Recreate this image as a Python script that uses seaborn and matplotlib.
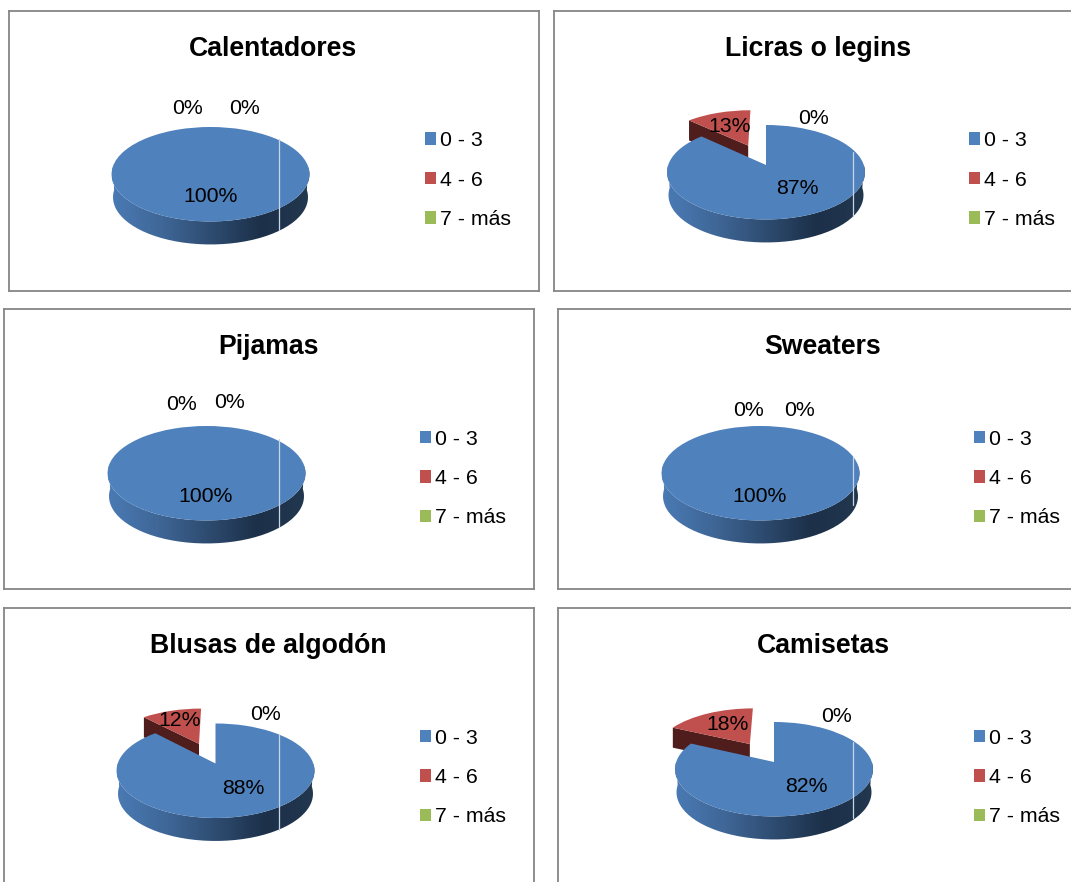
import numpy as np
import matplotlib
matplotlib.use("Agg")
import matplotlib.pyplot as plt
import seaborn as sns
from matplotlib.colors import LinearSegmentedColormap
from matplotlib.path import Path
from matplotlib.transforms import Transform

# ---------- data ----------
titles = ["Calentadores", "Licras o legins", "Pijamas", "Sweaters",
          "Blusas de algodón", "Camisetas"]
categories = ["0 - 3", "4 - 6", "7 - más"]
series_0_3 = [100, 87, 100, 100, 88, 82]
series_4_6 = [0, 13, 0, 0, 12, 18]
series_7_mas = [0, 0, 0, 0, 0, 0]

# ---------- layout (reference pixels) ----------
W, H = 1071, 882
boxes = [(9, 11, 539, 291), (554, 11, 1090, 291), (4, 309, 534, 589),
         (558, 309, 1090, 589), (4, 608, 534, 900), (558, 608, 1090, 900)]
centers = [(210.5, 174), (766, 172), (206.5, 473), (760.5, 473),
           (215.5, 770.5), (774, 769)]
title_pos = [(273, 49), (818, 49), (269, 347), (823, 347), (268, 646), (823, 646)]
legend_pos = [(425, 180), (969, 180), (420, 478.5), (974, 478.5), (420, 777.5), (974, 777.5)]
label_pos = [[(210.5, 197), (187.5, 109), (244.5, 109)],
             [(797.5, 189), (729.5, 126), (813.5, 119)],
             [(205.5, 496), (181.5, 404), (229.5, 402)],
             [(759.5, 496), (748.5, 410), (799.5, 410)],
             [(243.5, 788), (179.5, 720), (265.5, 714)],
             [(806.5, 786), (727.5, 724), (836.5, 716)]]
light_lines = [(279, 139, 230), (853, 152, 216), (279, 439, 527),
               (853, 457, 505), (279, 734, 830), (853, 742, 818)]
DEPTH = 23
RED_DEPTH = 20
EXPLODE = 0.49
colors = ["#4F81BD", "#C0504D", "#9BBB59"]
side_dark = "#4F1E1C"

sns.set_theme(style="white")
plt.rcParams["font.family"] = ["Liberation Sans", "DejaVu Sans"]
plt.rcParams["text.color"] = "black"
side_cmap = LinearSegmentedColormap.from_list(
    "side", ["#4A7AB4", "#3F6797", "#2E4C71", "#1C3049", "#22384F"])


class Persp(Transform):
    """Tilted-disc projection of unit-pie coordinates to pixels."""
    input_dims = output_dims = 2
    is_separable = False
    has_inverse = False

    def __init__(self, cx, cy):
        super().__init__()
        self.cx, self.cy = cx, cy

    def transform_non_affine(self, values):
        v = np.asarray(values, float)
        d = 1 + 0.153 * v[:, 1]
        return np.column_stack([self.cx + 97.8 * v[:, 0] / d,
                                self.cy - (47.2 * v[:, 1] + 7) / d])


fig = plt.figure(figsize=(W / 100, H / 100), dpi=100, facecolor="white")

for i, title in enumerate(titles):
    x0, y0, x1, y1 = boxes[i]
    cx, cy = centers[i]
    ax = fig.add_axes([x0 / W, 1 - y1 / H, (x1 - x0) / W, (y1 - y0) / H])
    values = [series_0_3[i], series_4_6[i], series_7_mas[i]]
    explode = [0, EXPLODE if values[1] > 0 else 0, 0]
    wedges, _, autotexts = ax.pie(
        values, colors=colors, explode=explode, startangle=90, counterclock=False,
        autopct="%.0f%%", frame=True, radius=1,
        wedgeprops={"linewidth": 0}, textprops={"fontsize": 15.3, "color": "black"})
    ax.set_aspect("auto")

    persp = Persp(cx, cy)
    for k, w in enumerate(wedges):
        base = 2 * (len(wedges) - k)
        w.set_transform(persp + ax.transData)
        w.set_zorder(base + 1)
        if values[k] == 0:
            continue
        c = np.array(w.center)
        # rounded front wall of the slice
        th = np.arange(180, 361, 2.0)
        keep = [t for t in th if any(w.theta1 <= t + s <= w.theta2 for s in (-720, -360, 0, 360))]
        if keep:
            rad = np.radians(keep)
            pts = persp.transform_non_affine(
                np.column_stack([c[0] + np.cos(rad), c[1] + np.sin(rad)]))
            low = pts[::-1] + [0, DEPTH]
            low[:, 0] = cx + (low[:, 0] - cx) * 0.985
            poly = np.vstack([pts, low, pts[:1]])
            im = ax.imshow(np.linspace(0, 1, 256)[None, :], cmap=side_cmap, aspect="auto",
                           extent=(pts[:, 0].min(), pts[:, 0].max(), cy + 80, cy - 80),
                           zorder=base)
            im.set_clip_path(Path(poly), ax.transData)
        # cut face of an exploded slice
        if explode[k] > 0:
            t = np.radians(w.theta2)
            edge = persp.transform_non_affine(
                np.array([[c[0], c[1]], [c[0] + np.cos(t), c[1] + np.sin(t)]]))
            face = np.vstack([edge, edge[::-1] + [0, RED_DEPTH]])
            ax.fill(face[:, 0], face[:, 1], color=side_dark, lw=0, zorder=base)

    for text, pos in zip(autotexts, label_pos[i]):
        text.set_position(pos)
        text.set_zorder(12)

    lx, ly0, ly1 = light_lines[i]
    ax.plot([lx, lx], [ly0, ly1], color="#C6D5E8", lw=0.9, zorder=10)

    ax.text(*title_pos[i], title, ha="center", va="center", fontsize=19.2,
            fontweight="bold", color="black", zorder=12)

    ax.legend(wedges, categories, loc="center left", bbox_to_anchor=legend_pos[i],
              bbox_transform=ax.transData, frameon=False, fontsize=15.3, labelcolor="black",
              handlelength=0.52, handleheight=0.52, handletextpad=0.2,
              labelspacing=0.96, borderpad=0, borderaxespad=0)

    ax.set_xlim(x0, x1)
    ax.set_ylim(y1, y0)
    ax.set_xticks([])
    ax.set_yticks([])
    for s in ax.spines.values():
        s.set_visible(True)
        s.set_color("#868686")
        s.set_linewidth(1.3)

fig.savefig("out.png", dpi=100)
